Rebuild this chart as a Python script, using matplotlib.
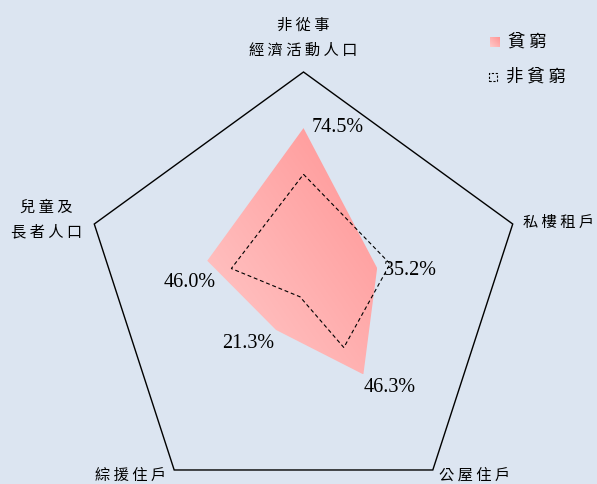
import numpy as np
import matplotlib
matplotlib.use("Agg")
import matplotlib.pyplot as plt
from matplotlib.patches import Polygon, Rectangle
from matplotlib.colors import LinearSegmentedColormap

# Categories (clockwise from the top) and the two series, in percent
categories = ["非從事\n經濟活動人口", "私樓租戶", "公屋住戶", "綜援住戶", "兒童及\n長者人口"]
poor = [74.5, 35.2, 46.3, 21.3, 46.0]
non_poor = [53.5, 41.4, 31.2, 2.7, 34.5]
series_names = ["貧窮", "非貧窮"]
scale_max = 100.0

BG = "#DCE5F1"
CJK = ["Noto Sans CJK TC", "DejaVu Sans"]
SERIF = "Liberation Serif"

fig = plt.figure(figsize=(5.97, 4.84), dpi=100, facecolor=BG)
ax = fig.add_axes([0, 0, 1, 1])
ax.set_facecolor(BG)
ax.axis("off")

# one data unit equals the outer radius; limits keep 1 unit = 220 px
R_PX = 220.0
ax.set_xlim(-303.5 / R_PX, (597 - 303.5) / R_PX)
ax.set_ylim(-(484 - 292) / R_PX, 292 / R_PX)
ax.set_aspect("equal")

n = len(categories)
angles = np.arange(n) * 2 * np.pi / n


def to_xy(values):
    r = np.asarray(values, dtype=float) / scale_max
    return np.column_stack([r * np.sin(angles), r * np.cos(angles)])


# outer pentagon frame
frame = to_xy([scale_max] * n)
ax.add_patch(Polygon(frame, closed=True, fill=False, edgecolor="black", lw=1.0, zorder=2))

# poor series: gradient-filled polygon
pink = LinearSegmentedColormap.from_list("pink", ["#FFCACA", "#FF9494"])
pts = to_xy(poor)
poly = Polygon(pts, closed=True, facecolor="none", edgecolor="none")
ax.add_patch(poly)
xmin, ymin = pts.min(axis=0)
xmax, ymax = pts.max(axis=0)
gx, gy = np.meshgrid(np.linspace(0, 1, 200), np.linspace(0, 1, 200))
grad = (gx + gy) / 2.0
img = ax.imshow(grad, cmap=pink, origin="lower", extent=[xmin, xmax, ymin, ymax],
                interpolation="bilinear", zorder=3, aspect="auto")
img.set_clip_path(poly)

# non-poor series: dashed outline
npts = to_xy(non_poor)
ax.add_patch(Polygon(npts, closed=True, fill=False, edgecolor="black", lw=0.8,
                     linestyle=(0, (3.5, 2.5)), zorder=4))

# value labels for the poor series
value_offsets = [(34, 1), (33, -2), (26, -13), (-28, -14), (-18, -22)]
for (x, y), v, off in zip(pts, poor, value_offsets):
    ax.annotate(f"{v:.1f}%", xy=(x, y), xytext=off, textcoords="offset pixels",
                ha="center", va="center", fontsize=14.5, family=SERIF,
                color="black", zorder=5)

# category labels at the frame vertices
label_offsets = [(0, 34.5), (46, 2), (42, -5), (-44, -5), (-48, 4.5)]
line_step = 25
for (x, y), name, off in zip(frame, categories, label_offsets):
    lines = name.split("\n")
    k = len(lines)
    for i, line in enumerate(lines):
        dy = off[1] + ((k - 1) / 2 - i) * line_step
        ax.annotate(" ".join(line), xy=(x, y), xytext=(off[0], dy),
                    textcoords="offset pixels", ha="center", va="center",
                    fontsize=11, family=CJK, color="black", zorder=5,
                    annotation_clip=False)

# legend
def px(xp, yp):
    return (xp - 303.5) / R_PX, (292 - yp) / R_PX

s = 10 / R_PX
lx, ly = px(495, 42)
sq = Rectangle((lx - s / 2, ly - s / 2), s, s, facecolor="none", edgecolor="none")
ax.add_patch(sq)
limg = ax.imshow(grad, cmap=pink, origin="lower",
                 extent=[lx - s / 2, lx + s / 2, ly - s / 2, ly + s / 2],
                 interpolation="bilinear", zorder=3, aspect="auto")
limg.set_clip_path(sq)
tx, ty = px(508, 42)
ax.text(tx, ty, " ".join(series_names[0]), ha="left", va="center", fontsize=12.5,
        family=CJK, color="black")

s2 = 8 / R_PX
dx, dy = px(493, 77)
ax.add_patch(Rectangle((dx - s2 / 2, dy - s2 / 2), s2, s2, fill=False,
                       edgecolor="black", lw=0.8, linestyle=(0, (2, 1.5))))
tx, ty = px(506, 77)
ax.text(tx, ty, " ".join(series_names[1]), ha="left", va="center", fontsize=12.5,
        family=CJK, color="black")

fig.savefig("out.png", dpi=100, facecolor=BG)
